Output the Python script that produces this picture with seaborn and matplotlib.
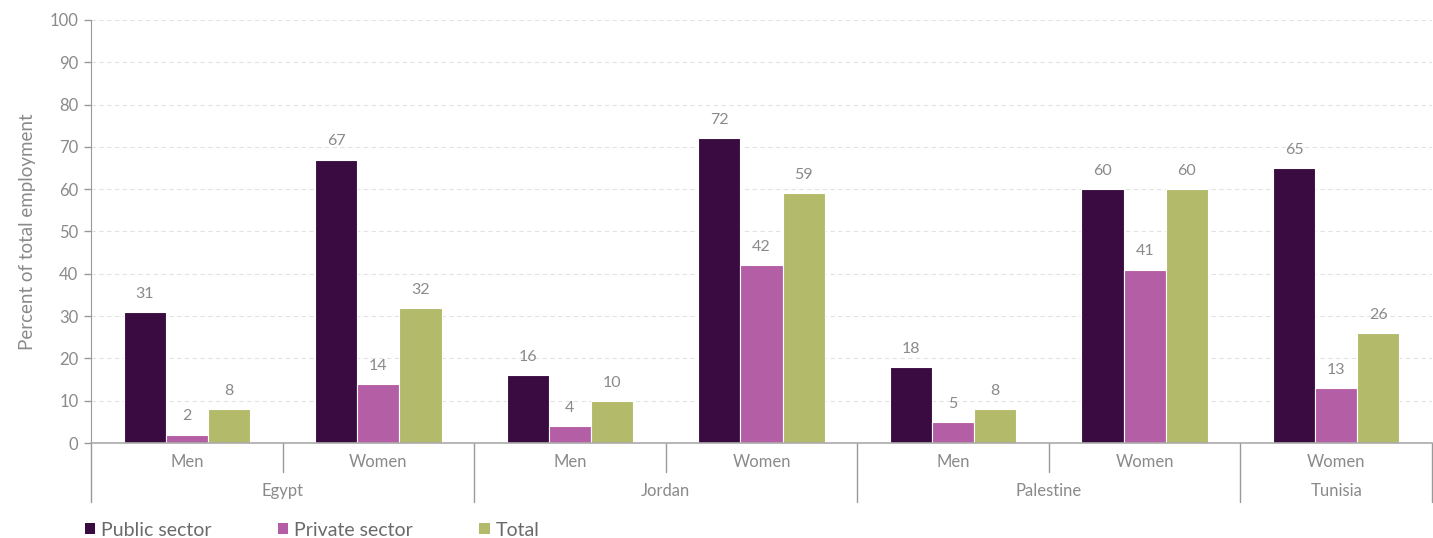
import matplotlib
matplotlib.use("Agg")
import matplotlib.pyplot as plt
import seaborn as sns
import pandas as pd
from matplotlib.patches import Patch

countries = ["Egypt", "Egypt", "Jordan", "Jordan", "Palestine", "Palestine", "Tunisia"]
genders = ["Men", "Women", "Men", "Women", "Men", "Women", "Women"]
public_sector = [31, 67, 16, 72, 18, 60, 65]
private_sector = [2, 14, 4, 42, 5, 41, 13]
total = [8, 32, 10, 59, 8, 60, 26]
series_names = ["Public sector", "Private sector", "Total"]
colors = ["#3a0b40", "#b45ea5", "#b3bb6a"]

groups = [f"{c}|{g}" for c, g in zip(countries, genders)]
rows = []
for name, vals in zip(series_names, [public_sector, private_sector, total]):
    for grp, v in zip(groups, vals):
        rows.append({"group": grp, "sector": name, "value": v})
df = pd.DataFrame(rows)

sns.set_style("white")
plt.rcParams["font.family"] = ["Lato", "DejaVu Sans"]
text_color = "#8a8a8a"

fig = plt.figure(figsize=(14.33, 5.38), dpi=100)
ax = fig.add_axes([91/1433, 1-443/538, (1432-91)/1433, (443-20)/538])

sns.barplot(data=df, x="group", y="value", hue="sector", order=groups,
            hue_order=series_names, palette=colors, width=0.66, saturation=1,
            edgecolor="white", linewidth=0.8, ax=ax, legend=False)

for cont in ax.containers:
    ax.bar_label(cont, padding=8, fontsize=11.5, color=text_color)

ax.set_ylim(0, 100)
ax.set_xlim(-0.5, len(groups) - 0.5)
ax.set_yticks(range(0, 101, 10))
ax.tick_params(axis="y", labelsize=12, colors="#999999", labelcolor=text_color,
               length=5, width=1, direction="out", pad=4, left=True)
ax.set_xticks([])
ax.set_xlabel("")
ax.set_ylabel("Percent of total employment", fontsize=13.5, color=text_color,
              labelpad=10)
ax.yaxis.grid(True, linestyle=(0, (4, 3)), color="#e3e3e3", linewidth=0.8)
ax.set_axisbelow(True)
for s in ["top", "right"]:
    ax.spines[s].set_visible(False)
ax.spines["left"].set_color("#999999")
ax.spines["bottom"].set_color("#aaaaaa")
ax.spines["bottom"].set_linewidth(1.2)

trans = ax.get_xaxis_transform()
# gender labels
for i, g in enumerate(genders):
    ax.text(i, -0.045, g, transform=trans, ha="center", va="center",
            fontsize=12, color=text_color)
# separators
short_h = (472 - 443) / (443 - 20)
long_h = (502 - 443) / (443 - 20)
bounds = [i - 0.5 for i in range(len(groups) + 1)]
for b in bounds:
    idx = int(b + 0.5)
    is_long = idx == 0 or idx == len(groups) or countries[idx] != countries[idx - 1]
    h = long_h if is_long else short_h
    ax.plot([b, b], [0, -h], transform=trans, color="#999999", lw=1, clip_on=False)
# country labels
seen = []
for c in countries:
    if c not in seen:
        seen.append(c)
for c in seen:
    idxs = [i for i, x in enumerate(countries) if x == c]
    center = (idxs[0] + idxs[-1]) / 2
    ax.text(center, -0.113, c, transform=trans, ha="center", va="center",
            fontsize=12, color=text_color)

handles = [Patch(facecolor=col, edgecolor="none", label=n) for n, col in zip(series_names, colors)]
leg = fig.legend(handles=handles, loc="center left", bbox_to_anchor=(67/1433, 1-530/538),
                 ncol=3, frameon=False, handlelength=0.55, handleheight=0.55,
                 handletextpad=0.3, columnspacing=3.4,
                 prop={"size": 14})
for t in leg.get_texts():
    t.set_color("#6a6a6a")

fig.savefig("out.png", dpi=100)
